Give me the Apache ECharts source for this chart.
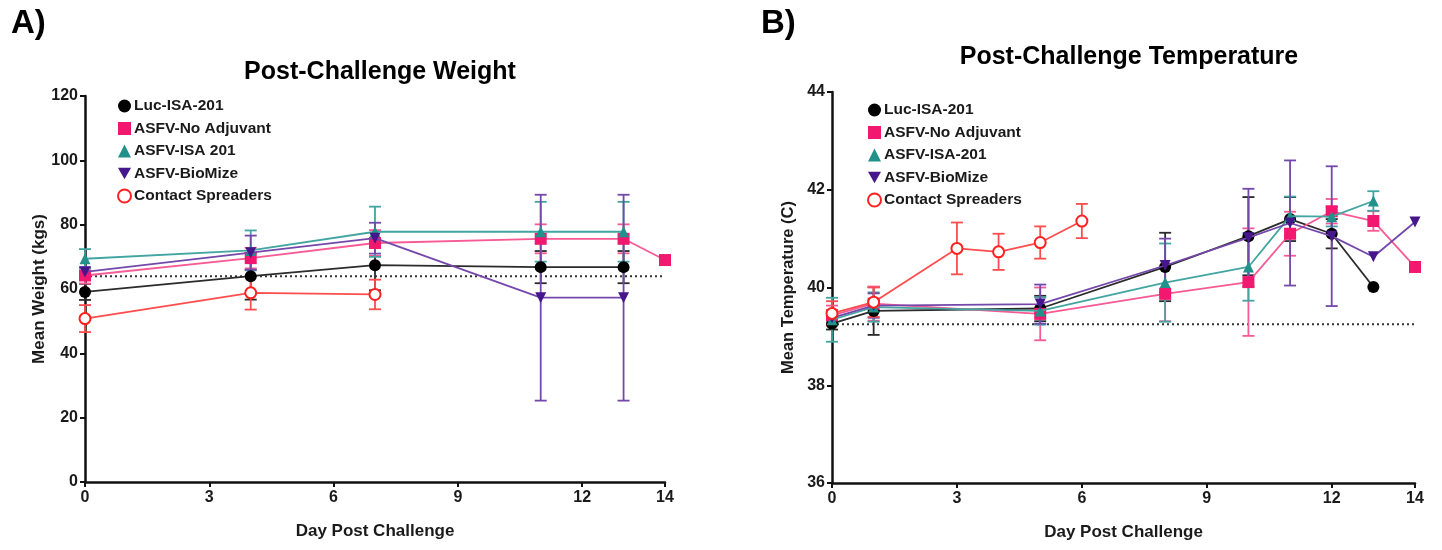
<!DOCTYPE html>
<html>
<head>
<meta charset="utf-8">
<script src="https://cdn.jsdelivr.net/npm/echarts@6/dist/echarts.min.js"></script>
<style>
  html, body { margin: 0; padding: 0; background: #fff; }
  #chart { width: 1442px; height: 550px; }
</style>
</head>
<body>
<div id="chart"></div>
<script>
// ---------- Panel A: weight (kg) ----------
const weightDaysLuc = [0, 4, 7, 11, 13];
const weightLuc = [59.1, 64.0, 67.4, 66.8, 66.8];
const weightLucSd = [2.5, 7.3, 7.8, 5.0, 5.0];

const weightDaysNoAdj = [0, 4, 7, 11, 13, 14];
const weightNoAdj = [64.2, 69.6, 74.3, 75.6, 75.6, 69.0];
const weightNoAdjSd = [2.5, 3.2, 4.0, 4.5, 4.5, null];

const weightDaysIsa = [0, 4, 7, 11, 13];
const weightIsa = [69.4, 72.0, 77.8, 77.8, 77.8];
const weightIsaSd = [3.0, 6.2, 7.8, 9.3, 9.3];

const weightDaysBio = [0, 4, 7, 11, 13];
const weightBio = [65.3, 71.3, 75.8, 57.3, 57.3];
const weightBioSd = [1.5, 5.3, 4.8, 32.0, 32.0];

const weightDaysContact = [0, 4, 7];
const weightContact = [50.8, 58.8, 58.3];
const weightContactSd = [4.2, 5.2, 4.6];

const weightBaseline = 64;

// ---------- Panel B: temperature (C) ----------
const tempDaysLuc = [0, 1, 5, 8, 10, 11, 12, 13];
const tempLuc = [39.26, 39.52, 39.57, 40.42, 41.05, 41.40, 41.10, 40.01];
const tempLucSd = [0.12, 0.49, 0.26, 0.70, 0.80, 0.45, 0.30, null];

const tempDaysNoAdj = [0, 1, 5, 8, 10, 11, 12, 13, 14];
const tempNoAdj = [39.43, 39.67, 39.46, 39.87, 40.11, 41.10, 41.56, 41.36, 40.42];
const tempNoAdjSd = [0.20, 0.35, 0.54, 0.56, 1.10, 0.45, 0.25, 0.20, null];

const tempDaysIsa = [0, 1, 5, 8, 10, 11, 12, 13];
const tempIsa = [39.34, 39.60, 39.52, 40.10, 40.42, 41.46, 41.45, 41.77];
const tempIsaSd = [0.45, 0.30, 0.28, 0.80, 0.69, 0.40, 0.20, 0.20];

const tempDaysBio = [0, 1, 5, 8, 10, 11, 12, 13, 14];
const tempBio = [39.38, 39.63, 39.66, 40.45, 41.02, 41.32, 41.05, 40.63, 41.34];
const tempBioSd = [0.15, 0.25, 0.40, 0.55, 1.00, 1.28, 1.43, null, null];

const tempDaysContact = [0, 1, 3, 4, 5, 6];
const tempContact = [39.47, 39.70, 40.80, 40.73, 40.92, 41.36];
const tempContactSd = [0.25, 0.30, 0.53, 0.37, 0.33, 0.35];

const tempBaseline = 39.25;

// ---------- Axis ticks ----------
const dayTicks = [0, 3, 6, 9, 12, 14];
const weightTicks = [0, 20, 40, 60, 80, 100, 120];
const tempTicks = [36, 38, 40, 42, 44];

// ---------- Group names / styles ----------
const namesA = ['Luc-ISA-201', 'ASFV-No Adjuvant', 'ASFV-ISA 201', 'ASFV-BioMize', 'Contact Spreaders'];
const namesB = ['Luc-ISA-201', 'ASFV-No Adjuvant', 'ASFV-ISA-201', 'ASFV-BioMize', 'Contact Spreaders'];

const downTriangle = 'path://M0,0 L10,0 L5,9 Z';
const groupStyle = [
  { marker: '#000000', line: '#2b2b2b', symbol: 'circle', size: 12 },
  { marker: '#f2186f', line: '#f75a94', symbol: 'rect', size: 12 },
  { marker: '#22918c', line: '#42a5a1', symbol: 'triangle', size: 11 },
  { marker: '#45168c', line: '#7448ab', symbol: downTriangle, size: 11 },
  { marker: '#ff2020', line: '#ff4d4d', symbol: 'emptyCircle', size: 11 }
];

const FONT = '"Liberation Sans", Arial, sans-serif';

function pairs(xs, ys) { return xs.map((x, i) => [x, ys[i]]); }
function errRows(xs, ys, sds) {
  const rows = [];
  xs.forEach((x, i) => { if (sds[i] != null) rows.push([x, ys[i] - sds[i], ys[i] + sds[i]]); });
  return rows;
}

function renderErr(params, api) {
  const x = api.value(0);
  const top = api.coord([x, api.value(2)]);
  const bot = api.coord([x, api.value(1)]);
  const w = 6;
  const style = { stroke: api.visual('color'), lineWidth: 1.8 };
  return {
    type: 'group',
    children: [
      { type: 'line', shape: { x1: top[0], y1: top[1], x2: bot[0], y2: bot[1] }, style: style },
      { type: 'line', shape: { x1: top[0] - w, y1: top[1], x2: top[0] + w, y2: top[1] }, style: style },
      { type: 'line', shape: { x1: bot[0] - w, y1: bot[1], x2: bot[0] + w, y2: bot[1] }, style: style }
    ]
  };
}

function panelSeries(idx, names, groups, baseline) {
  const out = [];
  groups.forEach((g, i) => {
    const st = groupStyle[i];
    out.push({
      type: 'custom',
      name: 'err-' + idx + '-' + i,
      xAxisIndex: idx, yAxisIndex: idx,
      renderItem: renderErr,
      itemStyle: { color: st.line },
      encode: { x: 0, y: [1, 2] },
      data: errRows(g[0], g[1], g[2]),
      z: 2,
      silent: true
    });
  });
  out.push({
    type: 'line',
    name: 'baseline-' + idx,
    xAxisIndex: idx, yAxisIndex: idx,
    data: [[0, baseline], [14, baseline]],
    symbol: 'none',
    lineStyle: { color: '#333', width: 2, type: [2, 3] },
    z: 1,
    silent: true
  });
  groups.forEach((g, i) => {
    const st = groupStyle[i];
    const hollow = st.symbol === 'emptyCircle';
    out.push({
      type: 'line',
      name: names[i],
      xAxisIndex: idx, yAxisIndex: idx,
      data: pairs(g[0], g[1]),
      symbol: st.symbol,
      symbolSize: st.size,
      showAllSymbol: true,
      itemStyle: hollow
        ? { color: st.marker, borderColor: st.marker, borderWidth: 2.5 }
        : { color: st.marker },
      lineStyle: { color: st.line, width: 1.8 },
      emphasis: { disabled: true },
      z: 3 + i
    });
  });
  return out;
}

function legendFor(names, left, top) {
  return {
    orient: 'vertical',
    left: left, top: top,
    itemGap: 6.5,
    itemWidth: 13, itemHeight: 13,
    selectedMode: false,
    textStyle: { fontFamily: FONT, fontWeight: 'bold', fontSize: 15.5, color: '#1a1a1a', padding: [0, 0, 0, -2] },
    data: names.map((n, i) => ({
      name: n,
      icon: groupStyle[i].symbol,
      itemStyle: groupStyle[i].symbol === 'emptyCircle'
        ? { color: groupStyle[i].marker, borderColor: groupStyle[i].marker, borderWidth: 2.5 }
        : { color: groupStyle[i].marker }
    }))
  };
}

function xAxisFor(idx) {
  return {
    type: 'value', gridIndex: idx, min: 0, max: 14,
    name: 'Day Post Challenge', nameLocation: 'middle', nameGap: 41,
    nameTextStyle: { fontFamily: FONT, fontWeight: 'bold', fontSize: 17, color: '#1a1a1a' },
    axisLine: { onZero: false, lineStyle: { color: '#111', width: 2.5 } },
    axisTick: { customValues: dayTicks, length: 5, lineStyle: { color: '#111', width: 2 } },
    axisLabel: { customValues: dayTicks, fontFamily: FONT, fontWeight: 'bold', fontSize: 16, color: '#1a1a1a', margin: 8 },
    splitLine: { show: false }
  };
}

function yAxisFor(idx, min, max, ticks, name, nameSize) {
  return {
    type: 'value', gridIndex: idx, min: min, max: max,
    name: name, nameLocation: 'middle', nameGap: 35,
    nameTextStyle: { fontFamily: FONT, fontWeight: 'bold', fontSize: nameSize, color: '#1a1a1a' },
    axisLine: { show: true, onZero: false, lineStyle: { color: '#111', width: 2.5 } },
    axisTick: { show: true, customValues: ticks, length: 5, lineStyle: { color: '#111', width: 2 } },
    axisLabel: { customValues: ticks, fontFamily: FONT, fontWeight: 'bold', fontSize: 16, color: '#1a1a1a', margin: 7 },
    splitLine: { show: false }
  };
}

const chart = echarts.init(document.getElementById('chart'), null, { renderer: 'canvas' });

const groupsA = [
  [weightDaysLuc, weightLuc, weightLucSd],
  [weightDaysNoAdj, weightNoAdj, weightNoAdjSd],
  [weightDaysIsa, weightIsa, weightIsaSd],
  [weightDaysBio, weightBio, weightBioSd],
  [weightDaysContact, weightContact, weightContactSd]
];
const groupsB = [
  [tempDaysLuc, tempLuc, tempLucSd],
  [tempDaysNoAdj, tempNoAdj, tempNoAdjSd],
  [tempDaysIsa, tempIsa, tempIsaSd],
  [tempDaysBio, tempBio, tempBioSd],
  [tempDaysContact, tempContact, tempContactSd]
];

chart.setOption({
  animation: false,
  backgroundColor: '#ffffff',
  title: [
    { text: 'A)', left: 6, top: 2, textStyle: { fontFamily: FONT, fontWeight: 'bold', fontSize: 33, color: '#000' } },
    { text: 'B)', left: 756, top: 2, textStyle: { fontFamily: FONT, fontWeight: 'bold', fontSize: 33, color: '#000' } },
    { text: 'Post-Challenge Weight', left: 375, top: 55, textAlign: 'center',
      textStyle: { fontFamily: FONT, fontWeight: 'bold', fontSize: 25, color: '#000' } },
    { text: 'Post-Challenge Temperature', left: 1124, top: 40, textAlign: 'center',
      textStyle: { fontFamily: FONT, fontWeight: 'bold', fontSize: 25, color: '#000' } }
  ],
  legend: [legendFor(namesA, 112, 93), legendFor(namesB, 862, 97)],
  grid: [
    { left: 85, top: 96, width: 580, height: 386 },
    { left: 832, top: 92, width: 583, height: 391 }
  ],
  xAxis: [xAxisFor(0), xAxisFor(1)],
  yAxis: [
    yAxisFor(0, 0, 120, weightTicks, 'Mean Weight (kgs)', 17),
    yAxisFor(1, 36, 44, tempTicks, 'Mean Temperature (C)', 16.5)
  ],
  series: panelSeries(0, namesA, groupsA, weightBaseline)
    .concat(panelSeries(1, namesB, groupsB, tempBaseline))
});
</script>
</body>
</html>
